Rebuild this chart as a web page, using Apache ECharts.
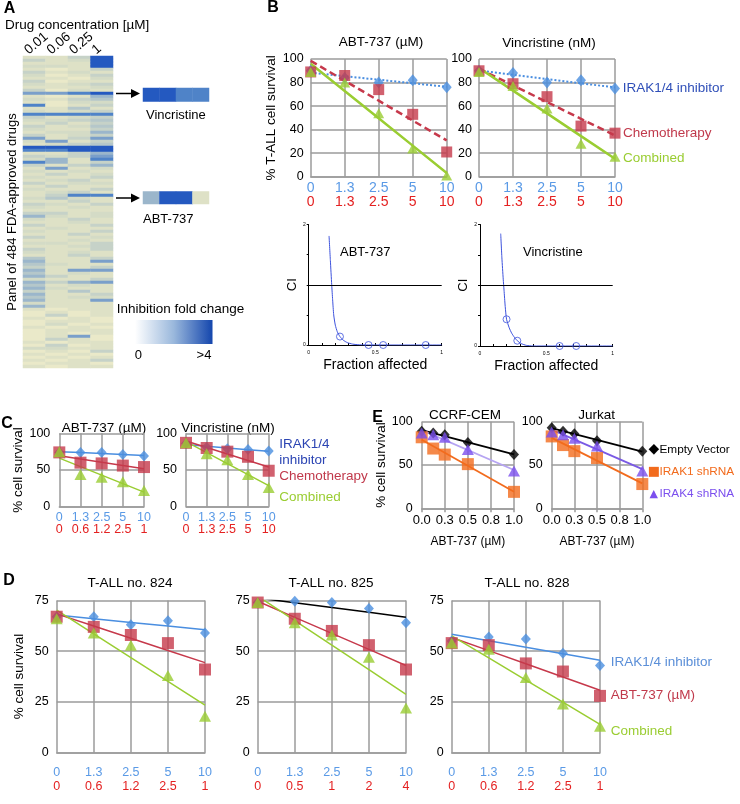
<!DOCTYPE html>
<html><head><meta charset="utf-8">
<script src="https://cdn.jsdelivr.net/npm/echarts@6/dist/echarts.min.js"></script>
<style>html,body{margin:0;padding:0;background:#fff}#c{width:740px;height:804px}</style>
</head><body><div id="c"></div><script>
// ---------- DATA ----------
const concLabels = ['0.01','0.06','0.25','1'];
const heatRows = [
'2249','4239','2229','3329','2024','4232','3024','2203','4022','3234',
'2223','4032','7789','2026','3245','2033','8024','2252','3234','8888',
'4234','3345','2424','4235','3224','2336','4234','7247','3724','2345',
'9999','8899','2246','4347','3628','8624','4246','2723','3232','2423',
'3224','2342','4233','2422','3224','2342','2488','3532','2242','4324',
'3232','2222','4423','6323','3242','2232','4224','2322','3224','2242',
'4223','2232','3324','2234','4224','3232','2242','5224','6227','5322',
'4224','6277','5232','6422','3224','6467','5232','6322','4252','6224',
'5233','6227','3222','6222','2022','0202','0402','2020','0220','0302',
'2020','0222','0202','0270','0420','2022','0402','3322','0204','2020',
'0202','2024','0220','2022'];
const vinInset = [9,9,8,8];
const abtInset = [6,9,9,2];
const foldLabels = ['0','>4'];

const bBlueLabels = ['0','1.3','2.5','5','10'];
const bAbtRedLabels = ['0','1.3','2.5','5','10'];
const bVinRedLabels = ['0','1.3','2.5','5','10'];
const bAbtIrak = [90,84,80,82,76];
const bAbtChemo = [89,86,74,53,21];
const bAbtComb = [89,80,54,24,1];
const bVinIrak = [90,88,80,82,75];
const bVinChemo = [90,79,68,43,37];
const bVinComb = [89,77,58,28,17];

const ciXTicks = [0,0.5,1], ciXTickLabels = ['0','0.5','1'];
const ciYTicks = [0,2], ciYTickLabels = ['0','2'];
const ciAbtCurve = [[0.153,1.81],[0.163,1.4],[0.173,1.0],[0.18,0.75],[0.188,0.5],[0.2,0.33],[0.215,0.22],[0.235,0.14],[0.26,0.08],[0.29,0.04],[0.33,0.015],[0.38,0.003],[0.45,0],[1,0]];
const ciAbtPoints = [[0.235,0.14],[0.45,0],[0.56,0],[0.88,0]];
const ciVinCurve = [[0.156,1.85],[0.165,1.45],[0.175,1.1],[0.181,0.92],[0.19,0.65],[0.2,0.44],[0.22,0.3],[0.239,0.21],[0.26,0.14],[0.281,0.087],[0.31,0.04],[0.35,0.01],[0.4,0],[1,0]];
const ciVinPoints = [[0.2,0.44],[0.281,0.087],[0.6,0],[0.725,0]];

const cBlueLabels = ['0','1.3','2.5','5','10'];
const cAbtRedLabels = ['0','0.6','1.2','2.5','1'];
const cVinRedLabels = ['0','1.3','2.5','5','10'];
const cAbtIrak = [74,74,74,71,69];
const cAbtChemo = [74,60,59,56,54];
const cAbtComb = [75,44,40,34,22];
const cVinIrak = [86,81,79,78,76];
const cVinChemo = [87,80,75,68,49];
const cVinComb = [87,72,64,44,26];

const eDose = [0,0.125,0.25,0.5,1];
const eTicks = [0,0.25,0.5,0.75,1];
const eTickLabels = ['0.0','0.3','0.5','0.8','1.0'];
const eCemEmpty = [89,87,85,76,62];
const eCemIrak1 = [82,69,62,51,19];
const eCemIrak4 = [87,85,82,68,43];
const eJurEmpty = [93,89,86,78,66];
const eJurIrak1 = [83,73,66,58,28];
const eJurIrak4 = [88,85,81,72,43];

const dBlueLabels = ['0','1.3','2.5','5','10'];
const d824RedLabels = ['0','0.6','1.2','2.5','1'];
const d825RedLabels = ['0','0.5','1','2','4'];
const d828RedLabels = ['0','0.6','1.2','2.5','1'];
const d824Irak = [67,67,63,65,59];
const d824Abt = [67,62,58,54,41];
const d824Comb = [66,59,53,38,18];
const d825Irak = [74,74.6,74,71,64];
const d825Abt = [74,66,60,53,41];
const d825Comb = [74,64,58,47,22];
const d828Irak = [55,57,56,49,43];
const d828Abt = [54,53,44,40,28];
const d828Comb = [54,51,37,24,13];

// ---------- STYLE ----------
const FONT = 'Liberation Sans, Arial, DejaVu Sans, sans-serif';
const GRIDC = '#9b9b9b';
const BLUE = '#4a8ee0', RED = '#c6394b', GREEN = '#9acd32';
const LBLUE = '#5a9ae6', LRED = '#e42121';
const ORANGE = '#f26b1d', PURPLE = '#7b4fee', LPURPLE = '#b6a4f2';
const CIBLUE = '#3d52dc';
const heatPalette = ['#eae9c9','#e5e6c8','#dee1c6','#d4dbc6','#c6d2c8','#b5c7ca','#9bb6cb','#7a9fca','#4f83c8','#2459c0'];

function fit(xs, ys){
  const n = xs.length;
  const mx = xs.reduce((a,b)=>a+b,0)/n, my = ys.reduce((a,b)=>a+b,0)/n;
  let sxy=0, sxx=0;
  xs.forEach((x,i)=>{ sxy += (x-mx)*(ys[i]-my); sxx += (x-mx)*(x-mx); });
  const b = sxy/sxx; return {a: my-b*mx, b};
}
const CATS = [0,1,2,3,4];
function trendCat(ys){ const f = fit(CATS, ys); return CATS.map(i => f.a + f.b*i); }
function trendVal(xs, ys){ const f = fit(xs, ys); return [[0, f.a],[1, f.a+f.b]]; }

const grids = [], xAxes = [], yAxes = [], series = [];
function addGrid(l,t,w,h){ grids.push({left:l, top:t, width:w, height:h, containLabel:false, outerBoundsMode:'none'}); return grids.length-1; }

// ---------- A: heatmap ----------
const gHeat = addGrid(23,56,90,312);
xAxes.push({type:'category', gridIndex:gHeat, data:concLabels, position:'top',
  axisLine:{show:false}, axisTick:{show:false}, splitLine:{show:false}, axisLabel:{show:false}});
yAxes.push({type:'category', gridIndex:gHeat, data:heatRows.map((_,i)=>i), inverse:true,
  axisLine:{show:false}, axisTick:{show:false}, axisLabel:{show:false}, splitLine:{show:false},
  name:'Panel of 484 FDA-approved drugs', nameLocation:'middle', nameGap:4,
  nameTextStyle:{fontSize:13, color:'#000', fontFamily:FONT}});
const heatData = [];
heatRows.forEach((row,r)=>{ for(let c=0;c<4;c++) heatData.push([c, r, +row[c]]); });
series.push({type:'heatmap', xAxisIndex:gHeat, yAxisIndex:gHeat, data:heatData, silent:true, emphasis:{disabled:true}});

const gVin = addGrid(143,88,66,13.5);
xAxes.push({type:'category', gridIndex:gVin, data:concLabels, show:false});
yAxes.push({type:'category', gridIndex:gVin, data:['v'], show:false});
series.push({type:'heatmap', xAxisIndex:gVin, yAxisIndex:gVin, data:vinInset.map((v,i)=>[i,0,v]), silent:true});
const gAbt = addGrid(143,191.5,66,12.5);
xAxes.push({type:'category', gridIndex:gAbt, data:concLabels, show:false});
yAxes.push({type:'category', gridIndex:gAbt, data:['a'], show:false});
series.push({type:'heatmap', xAxisIndex:gAbt, yAxisIndex:gAbt, data:abtInset.map((v,i)=>[i,0,v]), silent:true});

// ---------- survival panels (category x) ----------
function survPanel(opt){
  const g = addGrid(opt.l, opt.t, opt.w, opt.h);
  xAxes.push({type:'category', gridIndex:g, data:CATS, boundaryGap:false,
    axisLine:{show:true, lineStyle:{color:GRIDC, width:1.5}}, axisTick:{show:false},
    splitLine:{show:true, lineStyle:{color:GRIDC, width:1.5}},
    axisLabel:{interval:0, margin:opt.lm, fontFamily:FONT,
      formatter:(v,i)=>'{b|'+opt.blue[i]+'}\n{r|'+opt.red[i]+'}',
      rich:{b:{color:LBLUE, fontSize:opt.fs, lineHeight:opt.lh, fontFamily:FONT},
            r:{color:LRED, fontSize:opt.fs, lineHeight:opt.lh, fontFamily:FONT}}}});
  yAxes.push({type:'value', gridIndex:g, min:0, max:opt.max, interval:opt.int,
    axisLine:{show:false}, axisTick:{show:false},
    splitLine:{show:true, lineStyle:{color:GRIDC, width:1.5}},
    axisLabel:{fontSize:12.5, color:'#000', margin:opt.ym, fontFamily:FONT},
    name:opt.name||'', nameLocation:'middle', nameGap:opt.ng||0,
    nameTextStyle:{fontSize:13.5, color:'#000', fontFamily:FONT}});
  opt.sets.forEach(s=>{
    series.push({type:'line', xAxisIndex:g, yAxisIndex:g, data:trendCat(s.data), showSymbol:false, symbol:'none',
      silent:true, lineStyle:{color:s.lc||s.color, width:s.lw, type:s.lt||'solid'}, z:2});
  });
  opt.sets.forEach(s=>{
    series.push({type:'scatter', xAxisIndex:g, yAxisIndex:g, data:s.data, symbol:s.sym, symbolSize:s.size,
      silent:true, itemStyle:{color:s.color}, z:3});
  });
}
const bSets = (irak, chemo, comb)=>[
  {data:irak, color:BLUE, sym:'diamond', size:[10,12], lw:2, lt:[2,2]},
  {data:chemo, color:RED, sym:'rect', size:11, lw:2.5, lt:[7,4]},
  {data:comb, color:GREEN, sym:'triangle', size:[11,10], lw:2.5}];
survPanel({l:310.7,t:59,w:136,h:117.7, blue:bBlueLabels, red:bAbtRedLabels, fs:14, lh:14, lm:4.3, ym:7,
  max:100, int:20, name:'% T-ALL cell survival', ng:32, sets:bSets(bAbtIrak,bAbtChemo,bAbtComb)});
survPanel({l:479,t:59,w:136,h:117.7, blue:bBlueLabels, red:bVinRedLabels, fs:14, lh:14, lm:4.3, ym:7,
  max:100, int:20, sets:bSets(bVinIrak,bVinChemo,bVinComb)});

// ---------- CI plots ----------
function ciPanel(l,t,w,h,curve,pts){
  const g = addGrid(l,t,w,h);
  xAxes.push({type:'value', gridIndex:g, min:0, max:1, interval:0.1,
    axisLine:{show:true, onZero:false, lineStyle:{color:'#000', width:1}},
    axisTick:{show:true, inside:true, length:2, lineStyle:{color:'#000'}}, splitLine:{show:false},
    axisLabel:{fontSize:5, margin:5, color:'#000', fontFamily:FONT,
      formatter:v=>{const i=ciXTicks.findIndex(t=>Math.abs(t-v)<1e-6); return i<0?'':ciXTickLabels[i];}},
    name:'Fraction affected', nameLocation:'middle', nameGap:13,
    nameTextStyle:{fontSize:14, color:'#000', fontFamily:FONT}});
  yAxes.push({type:'value', gridIndex:g, min:0, max:2, interval:0.5,
    axisLine:{show:true, lineStyle:{color:'#000', width:1}},
    axisTick:{show:true, length:2, lineStyle:{color:'#000'}}, splitLine:{show:false},
    axisLabel:{fontSize:5, margin:3, color:'#000', fontFamily:FONT,
      formatter:v=>{const i=ciYTicks.findIndex(t=>Math.abs(t-v)<1e-6); return i<0?'':ciYTickLabels[i];}},
    name:'CI', nameLocation:'middle', nameGap:10,
    nameTextStyle:{fontSize:13, color:'#000', fontFamily:FONT}});
  series.push({type:'line', xAxisIndex:g, yAxisIndex:g, data:curve, showSymbol:false, symbol:'none', smooth:0.2, silent:true,
    lineStyle:{color:CIBLUE, width:1},
    markLine:{silent:true, symbol:'none', label:{show:false}, lineStyle:{color:'#000', width:1, type:'solid'}, data:[{yAxis:1}]}});
  series.push({type:'scatter', xAxisIndex:g, yAxisIndex:g, data:pts, symbol:'circle', symbolSize:7, silent:true,
    itemStyle:{color:'rgba(0,0,0,0)', borderColor:CIBLUE, borderWidth:1}});
}
ciPanel(308.7,224.5,133,120.5,ciAbtCurve,ciAbtPoints);
ciPanel(480,224.5,132.7,121.5,ciVinCurve,ciVinPoints);

// ---------- C ----------
const cSets = (irak, chemo, comb)=>[
  {data:irak, color:BLUE, sym:'diamond', size:[10,11], lw:1.5},
  {data:chemo, color:RED, sym:'rect', size:12, lw:1.5},
  {data:comb, color:GREEN, sym:'triangle', size:[12,11], lw:1.5}];
survPanel({l:59.3,t:433.3,w:84.7,h:73.4, blue:cBlueLabels, red:cAbtRedLabels, fs:12.5, lh:12.3, lm:4.8, ym:9,
  max:100, int:50, name:'% cell survival', ng:34, sets:cSets(cAbtIrak,cAbtChemo,cAbtComb)});
survPanel({l:186,t:433.3,w:82.7,h:73.4, blue:cBlueLabels, red:cVinRedLabels, fs:12.5, lh:12.3, lm:4.8, ym:9,
  max:100, int:50, sets:cSets(cVinIrak,cVinChemo,cVinComb)});

// ---------- E ----------
function ePanel(l,t,w,h,name,sets){
  const g = addGrid(l,t,w,h);
  xAxes.push({type:'value', gridIndex:g, min:0, max:1, interval:0.25,
    axisLine:{show:true, lineStyle:{color:GRIDC, width:1.5}},
    axisTick:{show:true, length:4, lineStyle:{color:GRIDC, width:1.5}},
    splitLine:{show:true, lineStyle:{color:GRIDC, width:1.5}},
    axisLabel:{fontSize:13, margin:6, color:'#000', fontFamily:FONT,
      formatter:v=>{const i=eTicks.findIndex(t=>Math.abs(t-v)<1e-6); return i<0?'':eTickLabels[i];}},
    name:'ABT-737 (µM)', nameLocation:'middle', nameGap:27,
    nameTextStyle:{fontSize:12, color:'#000', fontFamily:FONT}});
  yAxes.push({type:'value', gridIndex:g, min:0, max:100, interval:50,
    axisLine:{show:false}, axisTick:{show:false},
    splitLine:{show:true, lineStyle:{color:GRIDC, width:1.5}},
    axisLabel:{fontSize:12.5, color:'#000', margin:9, fontFamily:FONT},
    name:name, nameLocation:'middle', nameGap:30,
    nameTextStyle:{fontSize:13.5, color:'#000', fontFamily:FONT}});
  sets.forEach(s=>{
    series.push({type:'line', xAxisIndex:g, yAxisIndex:g, data:trendVal(eDose, s.data), showSymbol:false, symbol:'none',
      silent:true, lineStyle:{color:s.lc||s.color, width:1.8}, z:2});
  });
  sets.forEach(s=>{
    series.push({type:'scatter', xAxisIndex:g, yAxisIndex:g, data:eDose.map((x,i)=>[x,s.data[i]]), symbol:s.sym,
      symbolSize:s.size, silent:true, itemStyle:{color:s.color}, z:3});
  });
}
ePanel(421.7,421.7,92.3,86.6,'% cell survival',[
  {data:eCemEmpty, color:'#000', sym:'diamond', size:[10,11]},
  {data:eCemIrak1, color:ORANGE, sym:'rect', size:12},
  {data:eCemIrak4, color:PURPLE, lc:LPURPLE, sym:'triangle', size:[12,11]}]);
ePanel(551.7,421.7,90.6,86.6,'',[
  {data:eJurEmpty, color:'#000', sym:'diamond', size:[10,11]},
  {data:eJurIrak1, color:ORANGE, sym:'rect', size:12},
  {data:eJurIrak4, color:PURPLE, lc:'#7a5ae4', sym:'triangle', size:[12,11]}]);

// ---------- D ----------
const dSets = (irak, abt, comb, irakLine)=>[
  {data:irak, color:BLUE, lc:irakLine, sym:'diamond', size:[10,11], lw:1.5},
  {data:abt, color:RED, sym:'rect', size:12, lw:1.5},
  {data:comb, color:GREEN, sym:'triangle', size:[12,11], lw:1.5}];
survPanel({l:56.7,t:600.5,w:148.3,h:152.2, blue:dBlueLabels, red:d824RedLabels, fs:12.5, lh:14.4, lm:12.4, ym:8,
  max:75, int:25, name:'% cell survival', ng:30, sets:dSets(d824Irak,d824Abt,d824Comb)});
survPanel({l:257.7,t:600.5,w:148.3,h:152.2, blue:dBlueLabels, red:d825RedLabels, fs:12.5, lh:14.4, lm:12.4, ym:8,
  max:75, int:25, sets:dSets(d825Irak,d825Abt,d825Comb,'#000')});
survPanel({l:451.7,t:600.5,w:148.3,h:152.2, blue:dBlueLabels, red:d828RedLabels, fs:12.5, lh:14.4, lm:12.4, ym:8,
  max:75, int:25, sets:dSets(d828Irak,d828Abt,d828Comb)});

// ---------- graphics (text) ----------
const G = [];
function txt(x,y,s,o){ o=o||{}; G.push({type:'text', x:x, y:y, silent:true, rotation:o.r||0, style:{text:s, fill:o.c||'#000',
  font:(o.w||'normal')+' '+(o.s||13)+'px '+(o.f||FONT), textAlign:o.a||'left', textVerticalAlign:'middle'}}); }
// letters
txt(9.5,8.5,'A',{w:'bold',s:16,a:'center'}); txt(273,8,'B',{w:'bold',s:16,a:'center'});
txt(7,424,'C',{w:'bold',s:16,a:'center'}); txt(9,581,'D',{w:'bold',s:16,a:'center'});
txt(377.5,418,'E',{w:'bold',s:16,a:'center'});
// A
txt(5,25,'Drug concentration [µM]',{s:13.5});
txt(146,115,'Vincristine',{s:13}); txt(143,219,'ABT-737',{s:13});
txt(116.7,309,'Inhibition fold change',{s:13.5});
txt(138.3,355,foldLabels[0],{s:13,a:'center'}); txt(204,355,foldLabels[1],{s:13,a:'center'});
G.push({type:'rect', shape:{x:135,y:320,width:77.5,height:24}, silent:true,
  style:{fill:new echarts.graphic.LinearGradient(0,0,1,0,[{offset:0,color:'#ffffff'},{offset:0.5,color:'#9ab8dc'},{offset:1,color:'#1446ad'}])}});
[93.5,198].forEach(y=>{
  G.push({type:'line', shape:{x1:116,y1:y,x2:133,y2:y}, silent:true, style:{stroke:'#000', lineWidth:1.5}});
  G.push({type:'polygon', shape:{points:[[131,y-4.5],[140,y],[131,y+4.5]]}, silent:true, style:{fill:'#000'}});
});
// B
txt(381,42.7,'ABT-737 (µM)',{s:13.5,a:'center'}); txt(549,43,'Vincristine (nM)',{s:13.5,a:'center'});
txt(622.7,88.7,'IRAK1/4 inhibitor',{s:13.5,c:'#2f4fb8'});
txt(623,133.3,'Chemotherapy',{s:13.5,c:'#c0394b'});
txt(623,158.7,'Combined',{s:13.5,c:GREEN});
txt(340,252,'ABT-737',{s:13}); txt(523,252,'Vincristine',{s:13});
// C
txt(104,428,'ABT-737 (µM)',{s:13.5,a:'center'}); txt(228,428,'Vincristine (nM)',{s:13.5,a:'center'});
txt(279.3,444.3,'IRAK1/4',{s:13.5,c:'#2b44b3'}); txt(279.3,460,'inhibitor',{s:13.5,c:'#2b44b3'});
txt(279.3,476.7,'Chemotherapy',{s:13.5,c:'#c0394b'}); txt(279.3,497.3,'Combined',{s:13.5,c:GREEN});
// E
txt(465,415.7,'CCRF-CEM',{s:13.5,a:'center'}); txt(596.7,415.7,'Jurkat',{s:13.5,a:'center'});
txt(653.8,449.3,'◆',{s:14,a:'center',f:'DejaVu Sans'});
txt(653.8,471.7,'■',{s:13,a:'center',c:ORANGE,f:'DejaVu Sans'});
txt(653.8,494,'▲',{s:11,a:'center',c:PURPLE,f:'DejaVu Sans'});
txt(659.5,449.3,'Empty Vector',{s:11.8});
txt(659.5,471.7,'IRAK1 shRNA',{s:11.8,c:ORANGE});
txt(659.5,494,'IRAK4 shRNA',{s:11.8,c:PURPLE});
// D
txt(130,583,'T-ALL no. 824',{s:13.5,a:'center'}); txt(331,583,'T-ALL no. 825',{s:13.5,a:'center'});
txt(527,583,'T-ALL no. 828',{s:13.5,a:'center'});
txt(610.7,662.3,'IRAK1/4 inhibitor',{s:13.5,c:'#5b8fd8'});
txt(610.7,695,'ABT-737 (µM)',{s:13.5,c:'#c0394b'});
txt(610.7,731.7,'Combined',{s:13.5,c:GREEN});

const chart = echarts.init(document.getElementById('c'), null, {renderer:'canvas'});
const baseOption = {
  animation:false, backgroundColor:'#fff',
  textStyle:{fontFamily:FONT},
  grid:grids, xAxis:xAxes, yAxis:yAxes,
  visualMap:{show:false, type:'continuous', min:0, max:9, seriesIndex:[0,1,2], inRange:{color:heatPalette}},
  series:series, graphic:G
};
chart.setOption(baseOption);
// concentration labels of the heatmap columns, placed from the heatmap's own x scale, slanted up-right
concLabels.forEach((lab,i)=>{
  const p = chart.convertToPixel({gridIndex:gHeat}, [i, 0]);
  txt(p[0]-8, 52, lab, {s:13.5, r:40*Math.PI/180});
});
chart.setOption({graphic:G});
</script></body></html>
